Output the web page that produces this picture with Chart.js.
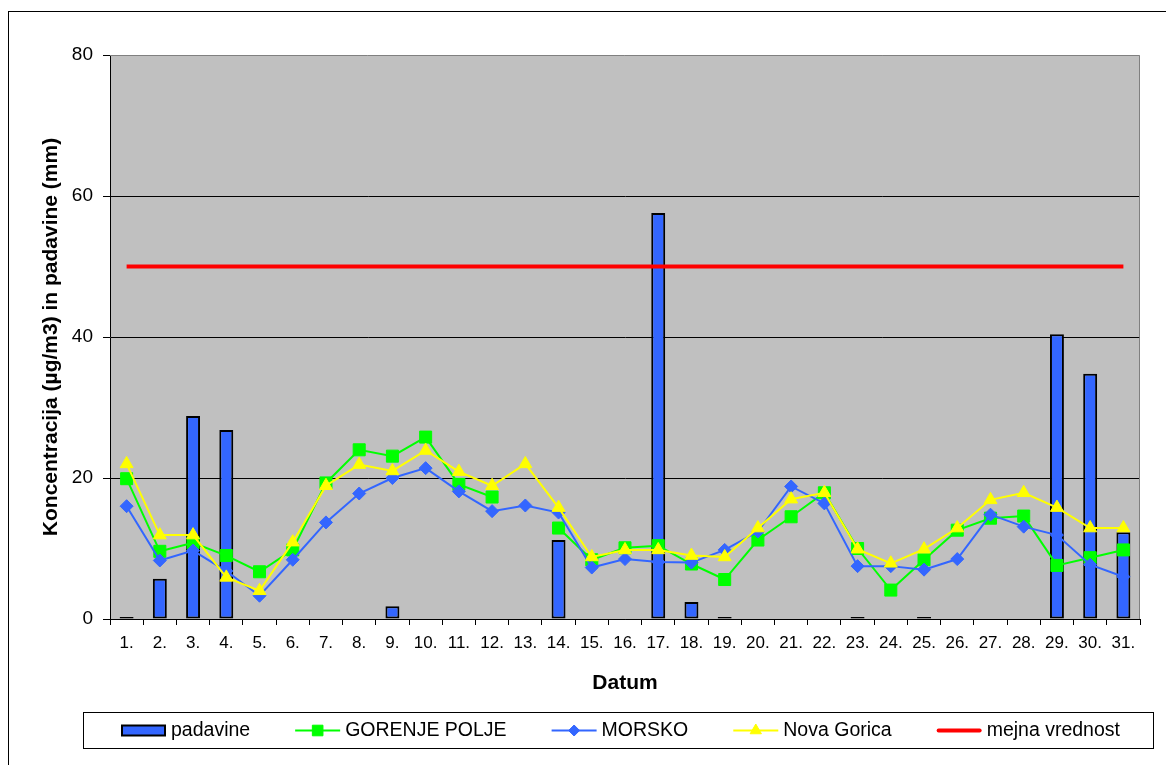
<!DOCTYPE html>
<html><head><meta charset="utf-8">
<script src="https://cdn.jsdelivr.net/npm/chart.js@4/dist/chart.umd.min.js"></script>
<style>html,body{margin:0;padding:0;background:#fff;}#wrap{position:relative;width:1166px;height:765px;}</style>
</head><body><div id="wrap"><canvas id="c"></canvas></div>
<script>
const days = ['1.','2.','3.','4.','5.','6.','7.','8.','9.','10.','11.','12.','13.','14.','15.','16.','17.','18.','19.','20.','21.','22.','23.','24.','25.','26.','27.','28.','29.','30.','31.'];
const padavine = [0.3,5.7,28.8,26.8,0,0,0,0,1.8,0,0,0,0,11.2,0,0,57.6,2.4,0.3,0,0,0,0.3,0,0.3,0,0,0,40.4,34.8,12.3];
const gorenjePolje = [19.9,9.6,10.8,9.0,6.7,9.8,19.3,24.0,23.1,25.8,19.1,17.3,null,12.9,8.4,10.1,10.4,7.8,5.6,11.2,14.5,17.9,10.0,4.1,8.4,12.6,14.3,14.6,7.6,8.7,9.8];
const morsko = [16.0,8.3,9.7,6.8,3.3,8.4,13.7,17.8,20.0,21.4,18.1,15.3,16.1,15.1,7.3,8.5,8.1,8.0,9.8,12.4,18.8,16.4,7.5,7.5,7.0,8.5,14.8,13.1,11.9,7.7,6.0];
const novaGorica = [22.0,11.9,11.9,5.9,4.0,10.9,18.9,21.9,21.0,23.9,20.9,18.9,22.0,15.8,8.8,9.8,9.8,9.0,8.8,12.9,17.0,17.9,9.9,7.9,9.9,12.9,16.9,17.9,15.8,12.9,12.9];
const mejnaVrednost = [50,50,50,50,50,50,50,50,50,50,50,50,50,50,50,50,50,50,50,50,50,50,50,50,50,50,50,50,50,50,50];
const yTicks = [0,20,40,60,80];

const FONT = "Arial, 'Liberation Sans', sans-serif";
Chart.defaults.font.family = FONT;
Chart.defaults.color = '#000';

const BLUE = '#3366FF', GREEN = '#00FF00', YELLOW = '#FFFF00', RED = '#FF0000';

const plotBg = {
  id: 'plotBg',
  beforeDraw(chart) {
    const {ctx, chartArea: a} = chart;
    ctx.save();
    ctx.fillStyle = '#fff';
    ctx.fillRect(0, 0, chart.width, chart.height);
    ctx.strokeStyle = '#000'; ctx.lineWidth = 1;
    ctx.strokeRect(8.5, 11.5, chart.width + 20, chart.height + 20);
    ctx.fillStyle = '#C0C0C0';
    ctx.fillRect(a.left, a.top, a.right - a.left, a.bottom - a.top);
    ctx.restore();
  },
  beforeDatasetsDraw(chart) {
    const {ctx, chartArea: a} = chart;
    ctx.save();
    ctx.strokeStyle = '#808080'; ctx.lineWidth = 1;
    ctx.beginPath();
    ctx.moveTo(a.left, Math.round(a.top) + 0.5);
    ctx.lineTo(Math.round(a.right) - 0.5, Math.round(a.top) + 0.5);
    ctx.lineTo(Math.round(a.right) - 0.5, a.bottom);
    ctx.stroke();
    ctx.restore();
  }
};

function drawMarker(ctx, style, x, y, r, color) {
  ctx.fillStyle = color; ctx.strokeStyle = color; ctx.lineWidth = 1;
  ctx.beginPath();
  if (style === 'rect') {
    const s = r * Math.SQRT1_2;
    ctx.rect(x - s, y - s, 2 * s, 2 * s);
  } else if (style === 'rectRot') {
    ctx.moveTo(x, y - r); ctx.lineTo(x + r, y); ctx.lineTo(x, y + r); ctx.lineTo(x - r, y); ctx.closePath();
  } else if (style === 'triangle') {
    ctx.moveTo(x, y - r);
    ctx.lineTo(x + r * 0.866, y + r * 0.5);
    ctx.lineTo(x - r * 0.866, y + r * 0.5);
    ctx.closePath();
  }
  ctx.fill(); ctx.stroke();
}

const legendBox = {
  id: 'legendBox',
  afterDraw(chart) {
    const ctx = chart.ctx;
    ctx.save();
    ctx.strokeStyle = '#000'; ctx.lineWidth = 1;
    ctx.strokeRect(83.5, 712.5, 1070, 36);
    ctx.font = '19.5px ' + FONT;
    ctx.textBaseline = 'middle'; ctx.textAlign = 'left';
    const cy = 730.5;
    let x = 121;
    chart.data.datasets.forEach((ds) => {
      if (ds.type === 'bar') {
        ctx.fillStyle = ds.backgroundColor;
        ctx.fillRect(x + 1, cy - 5, 43, 10);
        ctx.strokeStyle = '#000'; ctx.lineWidth = 2;
        ctx.strokeRect(x + 1, cy - 5, 43, 10);
      } else {
        const thick = ds.borderWidth > 3;
        ctx.strokeStyle = ds.borderColor;
        ctx.lineWidth = ds.borderWidth;
        ctx.lineCap = thick ? 'round' : 'butt';
        ctx.beginPath(); ctx.moveTo(x + (thick ? 2 : 0), cy); ctx.lineTo(x + 45 - (thick ? 2 : 0), cy); ctx.stroke();
        if (ds.pointRadius > 0) drawMarker(ctx, ds.pointStyle, x + 22.5, cy, ds.legendMarker, ds.pointBackgroundColor);
      }
      ctx.fillStyle = '#000';
      ctx.fillText(ds.label, x + 50, cy);
      x += 50 + ctx.measureText(ds.label).width + 45;
    });
    ctx.restore();
  }
};

new Chart(document.getElementById('c'), {
  type: 'bar',
  data: {
    labels: days,
    datasets: [
      {type: 'bar', label: 'padavine', data: padavine, backgroundColor: BLUE, borderColor: '#000', borderWidth: 2, borderSkipped: false, barPercentage: 0.42, categoryPercentage: 1, order: 5},
      {type: 'line', label: 'GORENJE POLJE', data: gorenjePolje, borderColor: GREEN, borderWidth: 2, pointStyle: 'rect', pointRadius: 8.5, legendMarker: 7.5, pointBackgroundColor: GREEN, pointBorderColor: GREEN, pointBorderWidth: 1, tension: 0, spanGaps: false, order: 4},
      {type: 'line', label: 'MORSKO', data: morsko, borderColor: BLUE, borderWidth: 2, pointStyle: 'rectRot', pointRadius: 6.5, legendMarker: 5.5, pointBackgroundColor: BLUE, pointBorderColor: BLUE, pointBorderWidth: 1, tension: 0, order: 3},
      {type: 'line', label: 'Nova Gorica', data: novaGorica, borderColor: YELLOW, borderWidth: 2, pointStyle: 'triangle', pointRadius: 7.5, legendMarker: 6.5, pointBackgroundColor: YELLOW, pointBorderColor: YELLOW, pointBorderWidth: 1, tension: 0, order: 2},
      {type: 'line', label: 'mejna vrednost', data: mejnaVrednost, borderColor: RED, borderWidth: 4, pointRadius: 0, tension: 0, order: 1}
    ]
  },
  options: {
    responsive: true,
    maintainAspectRatio: false,
    animation: false,
    devicePixelRatio: 1,
    events: [],
    layout: {padding: {top: 55, left: 0, right: 26, bottom: 56}},
    plugins: {legend: {display: false}, tooltip: {enabled: false}},
    scales: {
      x: {
        offset: true,
        grid: {offset: true, drawOnChartArea: false, drawTicks: true, tickLength: 6, color: '#000', lineWidth: 1},
        border: {display: true, color: '#000', width: 1},
        ticks: {font: {size: 17}, color: '#000', padding: 8, maxRotation: 0, autoSkip: false},
        title: {display: true, text: 'Datum', font: {size: 21, weight: 'bold'}, color: '#000', padding: {top: 0, bottom: 13}},
        afterFit(scale) { scale.height = 90; }
      },
      y: {
        min: 0, max: 80,
        afterBuildTicks(scale) { scale.ticks = yTicks.map(v => ({value: v})); },
        grid: {color: (c) => (c.tick && c.tick.value === 80) ? 'rgba(0,0,0,0)' : '#000', tickColor: '#000', tickLength: 7, lineWidth: 1},
        border: {display: true, color: '#000', width: 1},
        ticks: {font: {size: 19}, color: '#000', padding: 10},
        title: {display: true, text: 'Koncentracija (µg/m3) in padavine (mm)', font: {size: 21, weight: 'bold'}, color: '#000', padding: {top: 39, bottom: 0}},
        afterFit(scale) { scale.width = 110; }
      }
    }
  },
  plugins: [plotBg, legendBox]
});
</script></body></html>
